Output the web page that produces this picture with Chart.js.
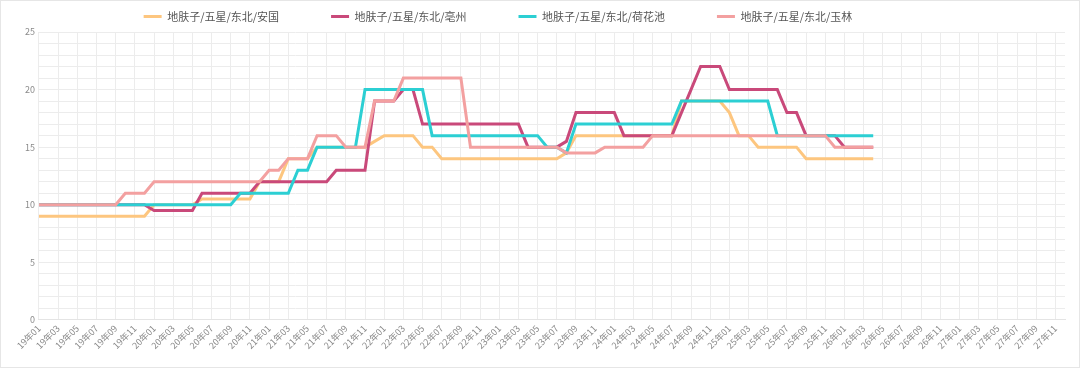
<!DOCTYPE html>
<html>
<head>
<meta charset="utf-8">
<script src="https://cdn.jsdelivr.net/npm/chart.js@4.4.1/dist/chart.umd.min.js"></script>
<style>
  html, body { margin: 0; padding: 0; background: #fff; }
  #cadre { width: 1080px; height: 368px; box-sizing: border-box; border: 1px solid #e6e6e6; }
  #zone { position: relative; width: 1078px; height: 366px; }
</style>
</head>
<body>
<div id="cadre"><div id="zone"><canvas id="graphique"></canvas></div></div>
<script>
// Axe des mois : 19年01 ... 27年12
const annees = ['19', '20', '21', '22', '23', '24', '25', '26', '27'];
const mois = ['01', '02', '03', '04', '05', '06', '07', '08', '09', '10', '11', '12'];
const categories = [];
annees.forEach(a => mois.forEach(m => categories.push(a + '年' + m)));

const noms = ['地肤子/五星/东北/安国', '地肤子/五星/东北/亳州', '地肤子/五星/东北/荷花池', '地肤子/五星/东北/玉林'];
const couleurs = ['#fdc67f', '#c9497a', '#2ccfd3', '#f3a0a0'];

// Prix mensuels 19年01 -> 26年04
const anguo = [
  9, 9, 9, 9, 9, 9, 9, 9, 9, 9, 9, 9,
  10, 10, 10, 10, 10, 10.5, 10.5, 10.5, 10.5, 10.5, 10.5, 12,
  12, 12, 14, 14, 14, 15, 15, 15, 15, 15, 15, 15.5,
  16, 16, 16, 16, 15, 15, 14, 14, 14, 14, 14, 14,
  14, 14, 14, 14, 14, 14, 14, 14.5, 16, 16, 16, 16,
  16, 16, 16, 16, 16, 16, 16, 19, 19, 19, 19, 19,
  18, 16, 16, 15, 15, 15, 15, 15, 14, 14, 14, 14,
  14, 14, 14, 14
];
const bozhou = [
  10, 10, 10, 10, 10, 10, 10, 10, 10, 10, 10, 10,
  9.5, 9.5, 9.5, 9.5, 9.5, 11, 11, 11, 11, 11, 11, 12,
  12, 12, 12, 12, 12, 12, 12, 13, 13, 13, 13, 19,
  19, 19, 20, 20, 17, 17, 17, 17, 17, 17, 17, 17,
  17, 17, 17, 15, 15, 15, 15, 15.5, 18, 18, 18, 18,
  18, 16, 16, 16, 16, 16, 16, 18, 20, 22, 22, 22,
  20, 20, 20, 20, 20, 20, 18, 18, 16, 16, 16, 16,
  15, 15, 15, 15
];
const hehuachi = [
  10, 10, 10, 10, 10, 10, 10, 10, 10, 10, 10, 10,
  10, 10, 10, 10, 10, 10, 10, 10, 10, 11, 11, 11,
  11, 11, 11, 13, 13, 15, 15, 15, 15, 15, 20, 20,
  20, 20, 20, 20, 20, 16, 16, 16, 16, 16, 16, 16,
  16, 16, 16, 16, 16, 15, 15, 14.5, 17, 17, 17, 17,
  17, 17, 17, 17, 17, 17, 17, 19, 19, 19, 19, 19,
  19, 19, 19, 19, 19, 16, 16, 16, 16, 16, 16, 16,
  16, 16, 16, 16
];
const yulin = [
  10, 10, 10, 10, 10, 10, 10, 10, 10, 11, 11, 11,
  12, 12, 12, 12, 12, 12, 12, 12, 12, 12, 12, 12,
  13, 13, 14, 14, 14, 16, 16, 16, 15, 15, 15, 19,
  19, 19, 21, 21, 21, 21, 21, 21, 21, 15, 15, 15,
  15, 15, 15, 15, 15, 15, 15, 14.5, 14.5, 14.5, 14.5, 15,
  15, 15, 15, 15, 16, 16, 16, 16, 16, 16, 16, 16,
  16, 16, 16, 16, 16, 16, 16, 16, 16, 16, 16, 15,
  15, 15, 15, 15
];
const series = [anguo, bozhou, hehuachi, yulin];
// ordre de dessin : 玉林 au-dessus, puis 荷花池, 亳州, 安国
const ordres = [3, 2, 1, 0];

// Petit décalage horizontal de la légende (elle n'est pas centrée sur la page)
const decalageLegende = {
  id: 'decalageLegende',
  afterLayout(chart) {
    chart.legend.left -= 45;
    chart.legend.right -= 45;
  }
};

Chart.defaults.font.family = "'Noto Sans CJK SC', 'Noto Sans', sans-serif";

const ctx = document.getElementById('graphique').getContext('2d');
new Chart(ctx, {
  type: 'line',
  data: {
    labels: categories,
    datasets: series.map((valeurs, i) => ({
      label: noms[i],
      data: valeurs,
      borderColor: couleurs[i],
      backgroundColor: couleurs[i],
      borderWidth: 3,
      pointRadius: 0,
      tension: 0,
      fill: false,
      order: ordres[i]
    }))
  },
  options: {
    responsive: true,
    maintainAspectRatio: false,
    animation: false,
    // haut négatif : compense la grande marge verticale que Chart.js ajoute à la légende
    layout: { padding: { top: -42, left: 20, right: 14, bottom: 13 } },
    plugins: {
      legend: {
        labels: {
          usePointStyle: true,
          pointStyle: 'line',
          pointStyleWidth: 18,
          padding: 52,
          color: '#555',
          font: { size: 11 },
          sort: (a, b) => a.datasetIndex - b.datasetIndex
        }
      },
      tooltip: { enabled: false }
    },
    scales: {
      x: {
        grid: { color: '#ececec', drawTicks: false },
        border: { color: '#e4e4e4' },
        afterBuildTicks: axis => {
          // un repère tous les deux mois
          axis.ticks = axis.ticks.filter(t => t.value % 2 === 0);
        },
        ticks: {
          autoSkip: false,
          minRotation: 45,
          maxRotation: 45,
          padding: 3,
          color: '#8a8a8a',
          font: { size: 9 }
        }
      },
      y: {
        min: 0,
        max: 25,
        grid: { color: '#ececec', drawTicks: false },
        border: { display: false },
        ticks: {
          stepSize: 1,
          autoSkip: false,
          padding: 4,
          color: '#8a8a8a',
          font: { size: 9 },
          callback: v => (v % 5 === 0 ? v : '')
        }
      }
    }
  },
  plugins: [decalageLegende]
});
</script>
</body>
</html>
